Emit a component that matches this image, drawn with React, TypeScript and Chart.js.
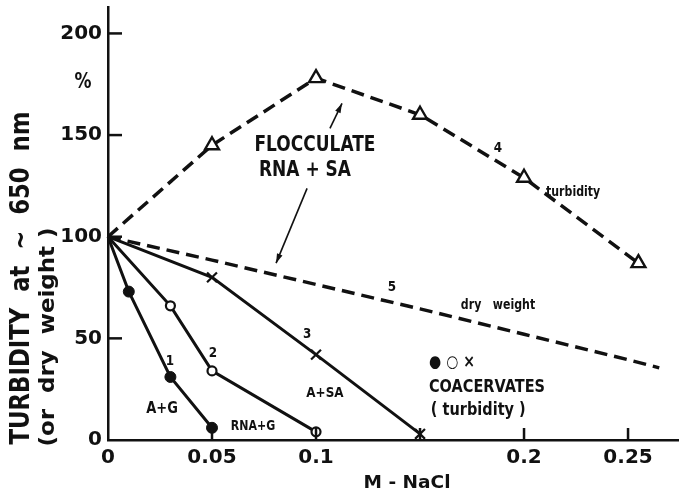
import React, { useEffect, useRef } from "react";
import { Chart, registerables } from "chart.js";

Chart.register(...registerables);

// ---- data ----
const xTicks = [0, 0.05, 0.1, 0.2, 0.25];
const xTickLabels = ["0", "0.05", "0.1", "0.2", "0.25"];
const xInnerTicks = [0.05, 0.1, 0.15, 0.2, 0.25];
const yTicks = [0, 50, 100, 150, 200];

const s1X = [0, 0.01, 0.03, 0.05];
const s1Y = [100, 73, 31, 6];
const s2X = [0, 0.03, 0.05, 0.1];
const s2Y = [100, 66, 34, 4];
const s3X = [0, 0.05, 0.1, 0.15];
const s3Y = [100, 80, 42, 3];
const s4X = [0, 0.05, 0.1, 0.15, 0.2, 0.255];
const s4Y = [100, 145, 178, 160, 129, 87];
const s5X = [0, 0.05, 0.1, 0.15, 0.2, 0.25, 0.265];
const s5Y = [100, 88.5, 76.5, 64.5, 52, 39.5, 35.5];

// annotation texts placed in data units
const noteTexts = ["%", "FLOCCULATE", "RNA + SA", "4", "turbidity", "5", "dry   weight", "1", "2", "3", "A+G", "RNA+G", "A+SA", "● ○ ×", "COACERVATES", "( turbidity )"];
const noteX = [-0.012, 0.0995, 0.0947, 0.1875, 0.2236, 0.1365, 0.1875, 0.0298, 0.0505, 0.0957, 0.026, 0.0697, 0.1043, 0.1654, 0.1822, 0.178];
const noteY = [176, 145, 132.7, 143.5, 121.9, 75.2, 66.3, 38.8, 42.8, 52, 15.2, 6.4, 23.1, 38.3, 26, 14.7];
const noteSize = [17, 17, 17, 12, 11, 12, 11, 12, 12, 12, 13, 11, 12, 14, 14.5, 14.5];

const arrowFromX = [0.1067, 0.0957];
const arrowFromY = [153.3, 123.8];
const arrowToX = [0.1125, 0.0808];
const arrowToY = [165.6, 87];

const INK = "#111";
const FONT = "'DejaVu Sans', sans-serif";

const pts = (xs: number[], ys: number[]) => xs.map((x, i) => ({ x, y: ys[i] }));

const decorPlugin = {
  id: "decor",
  afterDraw(chart: any) {
    const ctx = chart.ctx as CanvasRenderingContext2D;
    const xs = chart.scales.x;
    const ys = chart.scales.y;
    const ca = chart.chartArea;
    ctx.save();
    ctx.fillStyle = INK;
    ctx.strokeStyle = INK;

    // inner ticks
    ctx.lineWidth = 2.5;
    yTicks.forEach((v) => {
      if (v === 0) return;
      const py = ys.getPixelForValue(v);
      ctx.beginPath();
      ctx.moveTo(ca.left, py);
      ctx.lineTo(ca.left + 14, py);
      ctx.stroke();
    });
    xInnerTicks.forEach((v) => {
      const px = xs.getPixelForValue(v);
      ctx.beginPath();
      ctx.moveTo(px, ca.bottom);
      ctx.lineTo(px, ca.bottom - 12);
      ctx.stroke();
    });

    // annotations
    ctx.textAlign = "center";
    ctx.textBaseline = "middle";
    noteTexts.forEach((t, i) => {
      const px = xs.getPixelForValue(noteX[i]);
      const py = ys.getPixelForValue(noteY[i]);
      ctx.save();
      ctx.translate(px, py);
      ctx.scale(1, 1.2);
      ctx.font = `bold ${noteSize[i]}px ${FONT}`;
      ctx.fillText(t, 0, 0);
      ctx.restore();
    });

    // arrows
    ctx.lineWidth = 1.6;
    arrowFromX.forEach((_, i) => {
      const x1 = xs.getPixelForValue(arrowFromX[i]);
      const y1 = ys.getPixelForValue(arrowFromY[i]);
      const x2 = xs.getPixelForValue(arrowToX[i]);
      const y2 = ys.getPixelForValue(arrowToY[i]);
      const a = Math.atan2(y2 - y1, x2 - x1);
      ctx.beginPath();
      ctx.moveTo(x1, y1);
      ctx.lineTo(x2, y2);
      ctx.stroke();
      const hl = 10;
      ctx.beginPath();
      ctx.moveTo(x2, y2);
      ctx.lineTo(x2 - hl * Math.cos(a - 0.3), y2 - hl * Math.sin(a - 0.3));
      ctx.lineTo(x2 - hl * Math.cos(a + 0.3), y2 - hl * Math.sin(a + 0.3));
      ctx.closePath();
      ctx.fill();
    });

    // axis titles
    const drawFit = (text: string, cx: number, cy: number, size: number, len: number, rot: number) => {
      ctx.save();
      ctx.translate(cx, cy);
      ctx.rotate(rot);
      ctx.font = `bold ${size}px ${FONT}`;
      const w = ctx.measureText(text).width;
      ctx.scale(len / w, 1);
      ctx.fillText(text, 0, 0);
      ctx.restore();
    };
    drawFit("TURBIDITY  at  ~  650  nm", 22, 278, 27, 333, -Math.PI / 2);
    drawFit("(or  dry  weight )", 48, 337, 22, 219, -Math.PI / 2);
    drawFit("M - NaCl", 407, 483, 18, 87, 0);
    ctx.restore();
  },
};

export default function App() {
  const ref = useRef<HTMLCanvasElement | null>(null);
  useEffect(() => {
    document.body.style.margin = "0";
    if (!ref.current) return;
    const lineCommon = {
      borderColor: INK,
      pointBorderColor: INK,
      clip: false as any,
      tension: 0,
    };
    const hideFirst = (r: number) => (c: any) => (c.dataIndex === 0 ? 0 : r);
    const chart = new Chart(ref.current, {
      type: "line",
      data: {
        datasets: [
          { ...lineCommon, data: pts(s1X, s1Y), borderWidth: 3, pointStyle: "circle", pointRadius: hideFirst(5.5), pointBackgroundColor: INK, pointBorderWidth: 1 },
          { ...lineCommon, data: pts(s2X, s2Y), borderWidth: 3, pointStyle: "circle", pointRadius: hideFirst(4.5), pointBackgroundColor: "#fff", pointBorderWidth: 2.2 },
          { ...lineCommon, data: pts(s3X, s3Y), borderWidth: 3, pointStyle: "crossRot", pointRadius: hideFirst(7), pointBorderWidth: 2.2 },
          { ...lineCommon, data: pts(s4X, s4Y), borderWidth: 3.5, borderDash: [13, 7], pointStyle: "triangle", pointRadius: hideFirst(8), pointBackgroundColor: "#fff", pointBorderWidth: 2.4 },
          { ...lineCommon, data: pts(s5X, s5Y), borderWidth: 3.5, borderDash: [13, 7], pointRadius: 0 },
        ] as any,
      },
      options: {
        animation: false,
        responsive: false,
        devicePixelRatio: 1,
        layout: { autoPadding: false, padding: { top: 7, left: 0, right: 0, bottom: 0 } },
        plugins: { legend: { display: false }, tooltip: { enabled: false } },
        scales: {
          x: {
            type: "linear",
            min: 0,
            max: 0.2745,
            grid: { display: false, drawTicks: false },
            border: { display: true, width: 2.5, color: INK },
            afterBuildTicks: (s: any) => {
              s.ticks = xTicks.map((v) => ({ value: v }));
            },
            afterFit: (s: any) => {
              s.height = 54;
              s.paddingLeft = 0;
              s.paddingRight = 0;
            },
            ticks: {
              color: INK,
              padding: 6,
              maxRotation: 0,
              autoSkip: false,
              font: { family: FONT, size: 20, weight: "bold" },
              callback: (v: any) => xTickLabels[xTicks.indexOf(Number(v))] ?? "",
            },
          },
          y: {
            type: "linear",
            min: 0,
            max: 213,
            grid: { display: false, drawTicks: false },
            border: { display: true, width: 2.5, color: INK },
            afterBuildTicks: (s: any) => {
              s.ticks = yTicks.map((v) => ({ value: v }));
            },
            afterFit: (s: any) => {
              s.width = 108;
              s.paddingTop = 0;
              s.paddingBottom = 0;
            },
            ticks: {
              color: INK,
              padding: 6,
              autoSkip: false,
              font: { family: FONT, size: 20, weight: "bold" },
              callback: (v: any) => String(v),
            },
          },
        },
      } as any,
      plugins: [decorPlugin],
    });
    return () => chart.destroy();
  }, []);
  return <canvas ref={ref} width={679} height={494} style={{ display: "block" }} />;
}
